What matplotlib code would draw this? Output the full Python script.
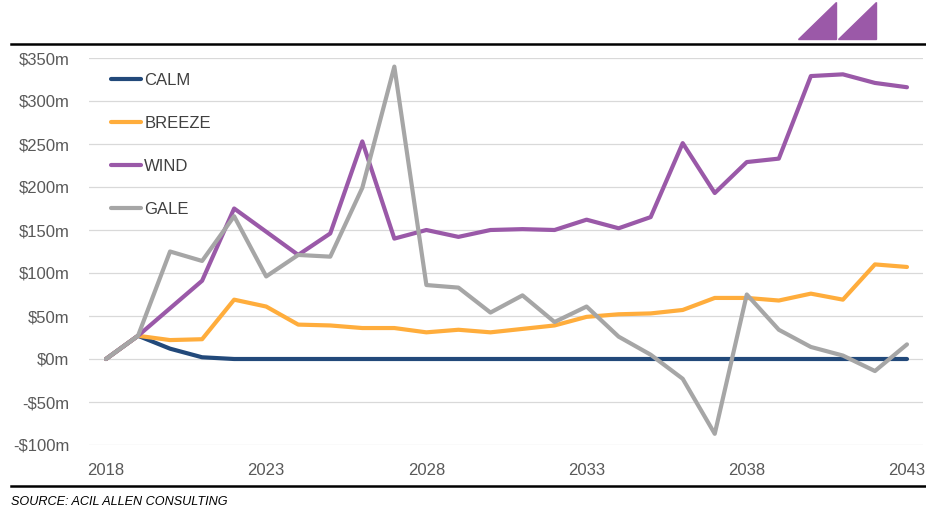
import numpy as np
import matplotlib
matplotlib.use("Agg")
import matplotlib.pyplot as plt
from matplotlib.lines import Line2D
from matplotlib.patches import Polygon

plt.rcParams['font.family'] = ['Liberation Sans', 'DejaVu Sans']

years = list(range(2018, 2044))
calm = [0, 27, 12, 2, 0, 0, 0, 0, 0, 0, 0, 0, 0, 0, 0, 0, 0, 0, 0, 0, 0, 0, 0, 0, 0, 0]
breeze = [0, 27, 22, 23, 69, 61, 40, 39, 36, 36, 31, 34, 31, 35, 39, 49, 52, 53, 57, 71, 71, 68, 76, 69, 110, 107]
wind = [0, 27, 59, 91, 175, 148, 121, 146, 253, 140, 150, 142, 150, 151, 150, 162, 152, 165, 251, 193, 229, 233, 329, 331, 321, 316]
gale = [0, 27, 125, 114, 166, 96, 121, 119, 199, 340, 86, 83, 54, 74, 43, 61, 26, 5, -23, -87, 75, 34, 14, 4, -14, 17]

names = ["CALM", "BREEZE", "WIND", "GALE"]
colors = ["#22497A", "#FFAD3C", "#9A59A8", "#A6A6A6"]
yticks = [-100, -50, 0, 50, 100, 150, 200, 250, 300, 350]
xticks = [2018, 2023, 2028, 2033, 2038, 2043]

W, H = 926, 521
fig = plt.figure(figsize=(W / 100, H / 100), dpi=100)
ax = fig.add_axes([89 / W, 1 - 445 / H, (923 - 89) / W, (445 - 58) / H])

for vals, name, c in zip([calm, breeze, wind, gale], names, colors):
    ax.plot(years, vals, color=c, lw=3, label=name, solid_capstyle="round", solid_joinstyle="round")

ax.set_xlim(2017.47, 2043.5)
ax.set_ylim(-100, 350)
ax.set_yticks(yticks)
ax.set_yticklabels([("-$%dm" % -v) if v < 0 else ("$%dm" % v) for v in yticks])
ax.set_xticks(xticks)
ax.tick_params(length=0, labelsize=12, labelcolor="#595959")
ax.tick_params(axis="y", pad=14)
ax.tick_params(axis="x", pad=13)
ax.grid(axis="y", color="#D9D9D9", lw=0.9)
ax.set_axisbelow(True)
for s in ax.spines.values():
    s.set_visible(False)

leg = ax.legend(loc="upper left", bbox_to_anchor=(111 / W, 1 - 73 / H), bbox_transform=fig.transFigure,
                frameon=False, fontsize=12, handlelength=1.8, handletextpad=0.2,
                labelspacing=1.68, borderpad=0, borderaxespad=0)
for t in leg.get_texts():
    t.set_color("#404040")

# top and bottom rules
fig.add_artist(Line2D([11 / W, 1], [1 - 44 / H, 1 - 44 / H], color="black", lw=1.8, transform=fig.transFigure))
fig.add_artist(Line2D([11 / W, 1], [1 - 486 / H, 1 - 486 / H], color="black", lw=1.8, transform=fig.transFigure))

# logo
for x0 in [798, 838]:
    pts = [(x0 / W, 1 - 39 / H), ((x0 + 38) / W, 1 - 39 / H), ((x0 + 38) / W, 1 - 2 / H)]
    fig.add_artist(Polygon(pts, closed=True, color="#9B59A8", transform=fig.transFigure))

fig.text(11 / W, 1 - 502 / H, "SOURCE: ACIL ALLEN CONSULTING", fontsize=9.1, style="italic",
         color="black", va="center", ha="left")

fig.savefig("out.png", dpi=100)
